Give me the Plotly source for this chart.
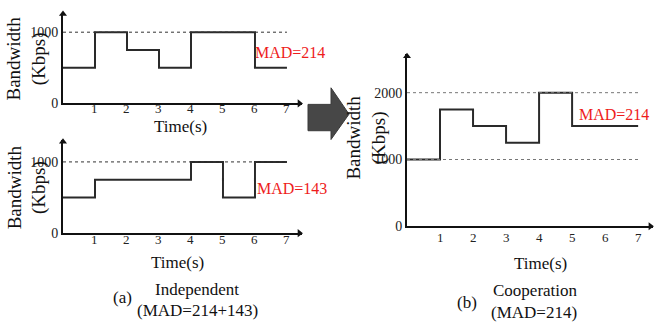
import plotly.graph_objects as go

W, H = 654, 327

# ---- data ----
time_s = [0, 1, 2, 3, 4, 5, 6, 7]
bw_user1 = [500, 1000, 750, 500, 1000, 1000, 500, 500]
bw_user2 = [500, 750, 750, 750, 1000, 500, 1000, 1000]
bw_coop = [1000, 1750, 1500, 1250, 2000, 1500, 1500, 1500]
x_ticks = [1, 2, 3, 4, 5, 6, 7]
mad_labels = ["MAD=214", "MAD=143", "MAD=214"]

FONT = "'Liberation Serif', 'DejaVu Serif', serif"
LINE_C = "#2a2a2a"


def px(x):
    return x / W


def py(y):
    return 1 - y / H


fig = go.Figure()
ann = []

panels = [
    dict(y=bw_user1, xd=(63, 302), yd=(106, 13), xmax=7.47, ymax=1274,
         yt=[0, 1000], grid=[1000], gridc="#333", ticky=111),
    dict(y=bw_user2, xd=(63, 302), yd=(239, 144), xmax=7.47, ymax=1301,
         yt=[0, 1000], grid=[1000], gridc="#333", ticky=245),
    dict(y=bw_coop, xd=(407, 653), yd=(232, 55), xmax=7.45, ymax=2584,
         yt=[0, 1000, 2000], grid=[1000, 2000], gridc="#777", ticky=243),
]

for i, p in enumerate(panels):
    n = "" if i == 0 else str(i + 1)
    xa, ya = "x" + n, "y" + n
    fig.add_trace(go.Scatter(x=time_s, y=p["y"], mode="lines", line_shape="hv",
                             line=dict(color=LINE_C, width=2), xaxis=xa, yaxis=ya,
                             showlegend=False, hoverinfo="skip"))
    for g in p["grid"]:
        fig.add_trace(go.Scatter(x=[0, 7], y=[g, g], mode="lines",
                                 line=dict(color=p["gridc"], width=1, dash="dot"),
                                 xaxis=xa, yaxis=ya, showlegend=False, hoverinfo="skip"))
    fig.add_trace(go.Scatter(x=[p["xmax"] - 0.08], y=[0], mode="markers",
                             marker=dict(symbol="triangle-right", size=7, color="#111"),
                             xaxis=xa, yaxis=ya, showlegend=False, cliponaxis=False,
                             hoverinfo="skip"))
    fig.add_trace(go.Scatter(x=[0], y=[p["ymax"] * 0.985], mode="markers",
                             marker=dict(symbol="triangle-up", size=7, color="#111"),
                             xaxis=xa, yaxis=ya, showlegend=False, cliponaxis=False,
                             hoverinfo="skip"))
    xaxis = dict(domain=[px(p["xd"][0]), px(p["xd"][1])], range=[0, p["xmax"]],
                 showline=True, linecolor="#111", linewidth=2, showgrid=False,
                 zeroline=False, ticks="", tickvals=x_ticks, showticklabels=False,
                 anchor=ya)
    yaxis = dict(domain=[py(p["yd"][0]), py(p["yd"][1])], range=[0, p["ymax"]],
                 showline=True, linecolor="#111", linewidth=2, showgrid=False,
                 zeroline=False, ticks="", tickvals=p["yt"],
                 tickfont=dict(family=FONT, size=14, color="#222"),
                 anchor=xa, ticklabelstandoff=0)
    fig.update_layout(**{"xaxis" + n: xaxis, "yaxis" + n: yaxis})
    for t in x_ticks:
        ann.append(dict(x=t, xref=xa, y=py(p["ticky"]), yref="paper", text=str(t),
                        showarrow=False, xanchor="center", yanchor="middle",
                        font=dict(family=FONT, size=13, color="#222")))


def txt(x, y, t, size=17, color="#111", angle=0, xanchor="center"):
    ann.append(dict(x=px(x), y=py(y), xref="paper", yref="paper", text=t,
                    showarrow=False, xanchor=xanchor, yanchor="middle",
                    textangle=angle, font=dict(family=FONT, size=size, color=color)))


txt(27, 60, "Bandwidth<br>(Kbps)", size=19, angle=-90)
txt(27, 192, "Bandwidth<br>(Kbps)", size=19, angle=-90)
txt(367, 141, "Bandwidth<br>(Kbps)", size=19, angle=-90)
txt(180, 130, "Time(s)", size=17)
txt(177, 269, "Time(s)", size=17)
txt(540, 270, "Time(s)", size=17)
txt(290, 54, mad_labels[0], size=16, color="#ee1c1c")
txt(292, 193, mad_labels[1], size=16, color="#ee1c1c")
txt(614, 117, mad_labels[2], size=16, color="#ee1c1c")
txt(122, 305, "(a)", size=17)
txt(197, 297, "Independent", size=17)
txt(197, 318, "(MAD=214+143)", size=17)
txt(467, 310, "(b)", size=17)
txt(535, 298, "Cooperation", size=17)
txt(534, 320, "(MAD=214)", size=17)

arrow_path = ("M {a},{b} L {c},{b} L {c},{d} L {e},{f} L {c},{g} L {c},{h} L {a},{h} Z"
              .format(a=px(308), b=py(107), c=px(331), d=py(90), e=px(349), f=py(117),
                      g=py(143), h=py(134)))

fig.update_layout(
    width=W, height=H, margin=dict(l=0, r=0, t=0, b=0),
    paper_bgcolor="white", plot_bgcolor="white",
    annotations=ann,
    shapes=[dict(type="path", path=arrow_path, xref="paper", yref="paper",
                 fillcolor="#474747", line=dict(color="#3a3a3a", width=1))],
)

fig.write_html("out.html")
